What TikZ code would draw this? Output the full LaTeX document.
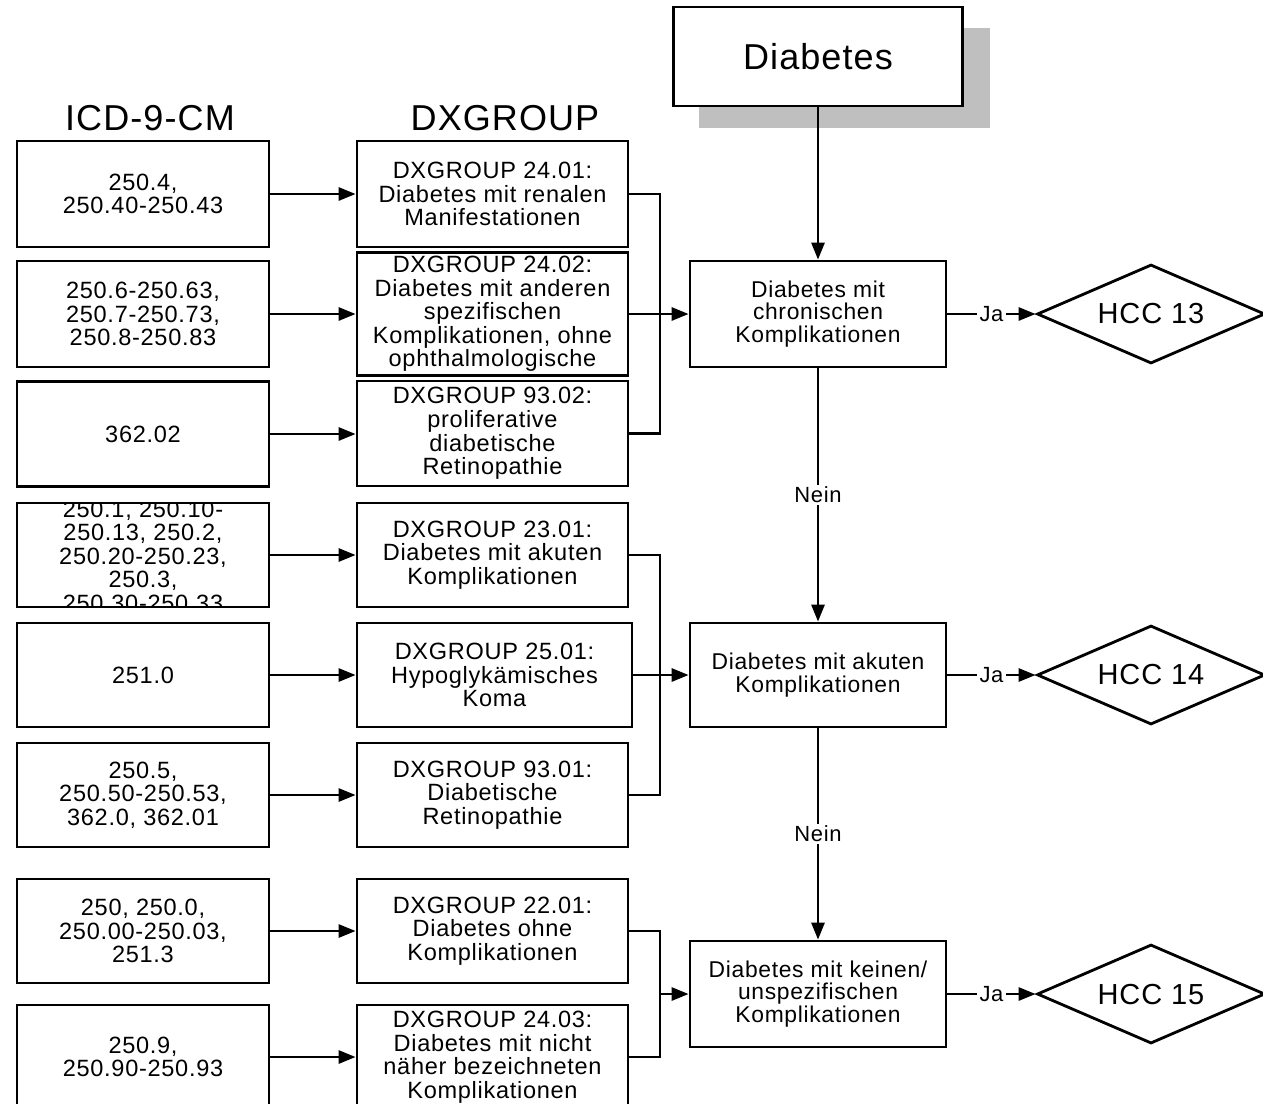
\documentclass[tikz,border=0pt]{standalone}
\usepackage{fontspec}
\setmainfont{Liberation Sans}
\newfontfamily\spaced[LetterSpace=3]{Liberation Sans}
\usetikzlibrary{arrows.meta,shapes.geometric}
\newcommand{\bodyfont}{\spaced\fontsize{13.4}{13.4}\selectfont}
\newcommand{\resfont}{\spaced\fontsize{13}{12.8}\selectfont}
\newcommand{\ttlfont}{\spaced\fontsize{20.5}{22}\selectfont}
\newcommand{\hccfont}{\spaced\fontsize{16.5}{18}\selectfont}
\newcommand{\lblfont}{\spaced\fontsize{12.5}{13}\selectfont}
\begin{document}
\begin{tikzpicture}[x=0.02cm,y=-0.02cm,
  ln/.style={line width=1.6pt},
  arr/.style={line width=1.6pt,-{Triangle[length=0.34cm,width=0.26cm]}},
  box/.style={draw,fill=white,line width=1.6pt,align=center,inner sep=0pt,font=\bodyfont},
  icd/.style={box,minimum width=5.04cm},
  dx/.style={box,minimum width=5.42cm},
  res/.style={box,minimum width=5.12cm,font=\resfont},
  hcc/.style={draw,fill=white,line width=1.6pt,diamond,aspect=2.3,inner sep=0pt,minimum width=4.56cm,minimum height=1.98cm,font=\hccfont},
  ttl/.style={font=\ttlfont,inner sep=0pt},
  lbl/.style={fill=white,inner sep=1.2pt,font=\lblfont}]
\clip (0,0) rectangle (1263,1103);
\fill[white] (0,0) rectangle (1263,1103);

% titles
\node[ttl] (t1) at (150,118) {ICD-9-CM};
\node[ttl] (t2) at (505,118) {DXGROUP};

% ICD boxes
\node[icd,minimum height=2.12cm] (i1) at (143,194) {250.4,\\250.40-250.43};
\node[icd,minimum height=2.12cm] (i2) at (143,314) {250.6-250.63,\\250.7-250.73,\\250.8-250.83};
\node[icd,minimum height=2.10cm] (i3) at (143,434) {362.02};
\node[icd,minimum height=2.08cm,outer sep=0pt] (i4) at (143,555) {};
\begin{scope}
  \clip (i4.south west) rectangle (i4.north east);
  \node[align=center,inner sep=0pt,font=\bodyfont] (i4t) at (143,556) {250.1, 250.10-\\250.13, 250.2,\\250.20-250.23,\\250.3,\\250.30-250.33};
\end{scope}
\draw[ln] (i4.south west) rectangle (i4.north east);
\node[icd,minimum height=2.08cm] (i5) at (143,675) {251.0};
\node[icd,minimum height=2.08cm] (i6) at (143,795) {250.5,\\250.50-250.53,\\362.0, 362.01};
\node[icd,minimum height=2.08cm] (i7) at (143,931) {250, 250.0,\\250.00-250.03,\\251.3};
\node[icd,minimum height=2.08cm] (i8) at (143,1057) {250.9,\\250.90-250.93};

% DXGROUP boxes
\node[dx,minimum height=2.12cm] (d1) at (492.5,194) {DXGROUP 24.01:\\Diabetes mit renalen\\Manifestationen};
\node[dx,minimum height=2.46cm] (d2) at (492.5,314) {DXGROUP 24.02:\\Diabetes mit anderen\\spezifischen\\Komplikationen, ohne\\ophthalmologische};
\node[dx,minimum height=2.10cm] (d3) at (492.5,433.5) {DXGROUP 93.02:\\proliferative\\diabetische\\Retinopathie};
\node[dx,minimum height=2.08cm] (d4) at (492.5,555) {DXGROUP 23.01:\\Diabetes mit akuten\\Komplikationen};
\node[dx,minimum height=2.08cm,minimum width=5.5cm] (d5) at (494.5,675) {DXGROUP 25.01:\\Hypoglykämisches\\Koma};
\node[dx,minimum height=2.08cm] (d6) at (492.5,795) {DXGROUP 93.01:\\Diabetische\\Retinopathie};
\node[dx,minimum height=2.08cm] (d7) at (492.5,931) {DXGROUP 22.01:\\Diabetes ohne\\Komplikationen};
\node[dx,minimum height=2.08cm] (d8) at (492.5,1057) {DXGROUP 24.03:\\Diabetes mit nicht\\näher bezeichneten\\Komplikationen};

% ICD -> DX arrows
\foreach \k in {1,...,8}{
  \draw[arr] (i\k.east) -- (i\k.east -| d\k.west);
}

% right column
\fill[black!25] (699,28) rectangle (990,128);
\node[box,font=\ttlfont,minimum width=5.78cm,minimum height=1.98cm] (diab) at (818,56.5) {Diabetes};
\node[res,minimum height=2.12cm] (c1) at (818,314) {Diabetes mit\\chronischen\\Komplikationen};
\node[res,minimum height=2.08cm] (a1) at (818,675) {Diabetes mit akuten\\Komplikationen};
\node[res,minimum height=2.12cm] (k1) at (818,994) {Diabetes mit keinen/\\unspezifischen\\Komplikationen};

\node[hcc] (h13) at (1151,314) {HCC 13};
\node[hcc] (h14) at (1151,675) {HCC 14};
\node[hcc] (h15) at (1151,994) {HCC 15};

% buses
\coordinate (bus1) at (660,314);
\coordinate (bus2) at (660,675);
\coordinate (bus3) at (660,994);
\draw[ln] (d1.east) -| (bus1) |- (d3.east);
\draw[arr] (d2.east) -- (c1.west);
\draw[ln] (d4.east) -| (bus2) |- (d6.east);
\draw[arr] (d5.east) -- (a1.west);
\draw[ln] (d7.east) -| (bus3) |- (d8.east);
\draw[arr] (bus3) -- (k1.west);

% flow
\draw[arr] (diab.south) -- (c1.north);
\draw[arr] (c1.south) -- node[lbl] (n1) {Nein} (a1.north);
\draw[arr] (a1.south) -- node[lbl] (n2) {Nein} (k1.north);
\draw[arr] (c1.east) -- node[lbl] (j1) {Ja} (h13.west);
\draw[arr] (a1.east) -- node[lbl] (j2) {Ja} (h14.west);
\draw[arr] (k1.east) -- node[lbl] (j3) {Ja} (h15.west);
\end{tikzpicture}
\end{document}
